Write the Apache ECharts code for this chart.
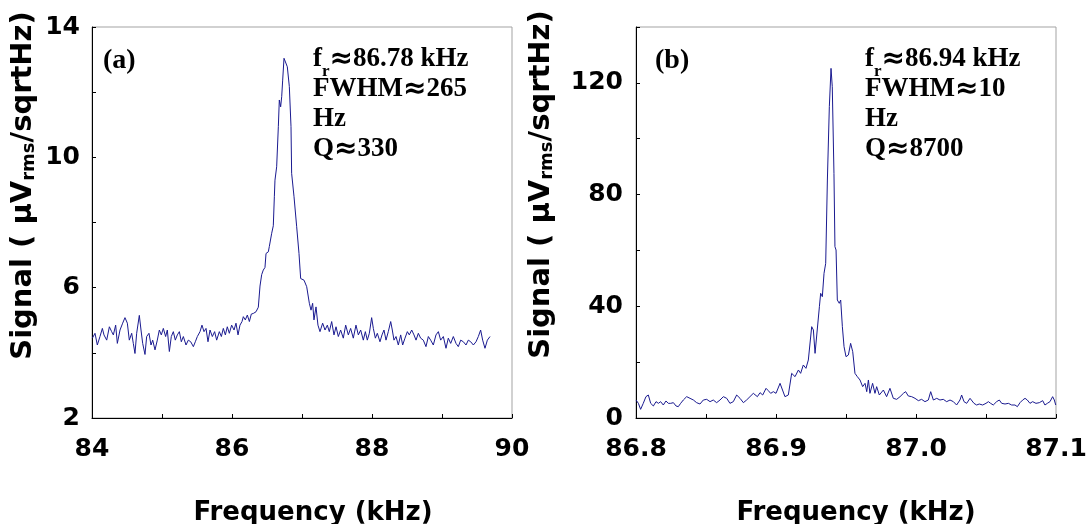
<!DOCTYPE html>
<html>
<head>
<meta charset="utf-8">
<script src="https://cdn.jsdelivr.net/npm/echarts@6/dist/echarts.min.js"></script>
<style>
  html, body { margin: 0; padding: 0; background: #fff; }
  #chart { width: 1090px; height: 524px; }
</style>
</head>
<body>
<div id="chart"></div>
<script>
// ---------- Panel (a) data ----------
const freqA = [
  84.005, 84.043, 84.076, 84.114, 84.148, 84.171, 84.210, 84.248, 84.281, 84.305,
  84.338, 84.362, 84.400, 84.438, 84.471, 84.505, 84.533, 84.567, 84.590, 84.614,
  84.638, 84.676, 84.700, 84.724, 84.757, 84.781, 84.814, 84.843, 84.867, 84.900,
  84.933, 84.962, 84.990, 85.019, 85.052, 85.076, 85.105, 85.133, 85.162, 85.190,
  85.219, 85.248, 85.276, 85.305, 85.343, 85.376, 85.410, 85.448, 85.476, 85.505,
  85.543, 85.571, 85.600, 85.629, 85.657, 85.686, 85.719, 85.752, 85.781, 85.819,
  85.848, 85.876, 85.905, 85.933, 85.962, 85.995, 86.029, 86.057, 86.086, 86.114,
  86.143, 86.162, 86.190, 86.219, 86.248, 86.276, 86.305, 86.343, 86.376,
  86.400, 86.424, 86.447, 86.471, 86.486, 86.519, 86.533, 86.567, 86.590, 86.605,
  86.614, 86.638, 86.662, 86.676, 86.695, 86.710, 86.724, 86.743, 86.767, 86.790,
  86.819, 86.843, 86.852, 86.886, 86.924, 86.957, 86.981, 87.005, 87.029, 87.067,
  87.105, 87.129, 87.152, 87.171, 87.200, 87.228,
  87.257, 87.295, 87.329, 87.362, 87.390, 87.424, 87.457, 87.486, 87.519, 87.552,
  87.590, 87.624, 87.662, 87.695, 87.733, 87.771, 87.805, 87.838, 87.876, 87.905,
  87.933, 87.962, 87.995, 88.019, 88.048, 88.076, 88.114, 88.143, 88.171, 88.200,
  88.233, 88.267, 88.290, 88.314, 88.343, 88.376, 88.410, 88.438, 88.471, 88.505,
  88.533, 88.567, 88.600, 88.629, 88.662, 88.695, 88.733, 88.771, 88.805, 88.838,
  88.876, 88.914, 88.948, 88.981, 89.019, 89.057, 89.090, 89.124, 89.162, 89.200,
  89.233, 89.267, 89.305, 89.343, 89.376, 89.410, 89.448, 89.486, 89.519, 89.552,
  89.581, 89.614, 89.648, 89.686
];
const signalA = [
  4.45, 4.60, 4.24, 4.50, 4.75, 4.55, 4.39, 4.80, 4.65, 4.55,
  4.85, 4.29, 4.70, 4.91, 5.08, 4.91, 4.39, 4.60, 4.29, 3.98,
  4.60, 5.15, 4.70, 4.29, 3.95, 4.50, 4.60, 4.24, 4.39, 4.09,
  4.39, 4.70, 4.55, 4.75, 4.50, 4.70, 4.04, 4.50, 4.65, 4.39,
  4.55, 4.65, 4.34, 4.50, 4.24, 4.39, 4.34, 4.19, 4.34, 4.50,
  4.65, 4.85, 4.65, 4.75, 4.34, 4.70, 4.50, 4.65, 4.39, 4.65,
  4.50, 4.75, 4.55, 4.80, 4.60, 4.85, 4.70, 4.91, 4.55, 4.85,
  4.96, 5.11, 5.01, 5.16, 4.96, 5.19, 5.21, 5.26, 5.40,
  6.05, 6.40, 6.54, 6.62, 7.05, 7.10, 7.26, 7.67, 7.90, 8.79,
  9.30, 9.71, 10.94, 11.76, 11.55, 11.86, 12.37, 13.04, 13.09, 12.78,
  12.17, 10.94, 9.51, 8.79, 7.87, 7.05, 6.28, 6.25, 6.23, 6.03,
  5.52, 5.31, 5.52, 5.01, 5.41, 4.85,
  4.65, 4.91, 4.70, 4.85, 4.65, 4.96, 4.55, 4.80, 4.50, 4.70,
  4.45, 4.85, 4.55, 4.75, 4.45, 4.85, 4.55, 4.70, 4.39, 4.65,
  4.39, 4.60, 5.08, 4.75, 4.45, 4.60, 4.34, 4.55, 4.70, 4.39,
  4.65, 4.96, 4.70, 4.39, 4.50, 4.24, 4.55, 4.24, 4.45, 4.65,
  4.55, 4.70, 4.55, 4.39, 4.60, 4.45, 4.39, 4.19, 4.50, 4.39,
  4.24, 4.55, 4.65, 4.39, 4.50, 4.14, 4.45, 4.29, 4.50, 4.29,
  4.19, 4.39, 4.34, 4.24, 4.39, 4.34, 4.24, 4.34, 4.50, 4.70,
  4.39, 4.14, 4.39, 4.50
];

// ---------- Panel (b) data ----------
const freqB = [
  86.8000, 86.8017, 86.8033, 86.8052, 86.8071, 86.8088, 86.8105, 86.8124, 86.8143, 86.8160,
  86.8176, 86.8195, 86.8214, 86.8231, 86.8248, 86.8267, 86.8286, 86.8302, 86.8319, 86.8338,
  86.8362, 86.8386, 86.8410, 86.8433, 86.8457, 86.8481, 86.8505, 86.8529, 86.8552, 86.8576,
  86.8600, 86.8624, 86.8648, 86.8671, 86.8695, 86.8719, 86.8743, 86.8767, 86.8790, 86.8814,
  86.8838, 86.8850, 86.8867, 86.8886, 86.8905, 86.8929, 86.8945, 86.8962, 86.8981, 86.9000,
  86.9029, 86.9064, 86.9088, 86.9112, 86.9136, 86.9160, 86.9176, 86.9195, 86.9214, 86.9231,
  86.9255, 86.9267, 86.9279, 86.9290, 86.9310, 86.9319, 86.9331, 86.9343, 86.9355, 86.9367,
  86.9381, 86.9393, 86.9402, 86.9414, 86.9421, 86.9429, 86.9438, 86.9452, 86.9462, 86.9474,
  86.9486, 86.9500, 86.9517, 86.9533, 86.9548, 86.9564, 86.9581, 86.9600, 86.9619, 86.9636,
  86.9648, 86.9660, 86.9671, 86.9690, 86.9707, 86.9719, 86.9738, 86.9767, 86.9790, 86.9814,
  86.9838, 86.9862,
  86.9886, 86.9910, 86.9926, 86.9945, 86.9969, 86.9993, 87.0017, 87.0040, 87.0064, 87.0088,
  87.0105, 87.0124, 87.0148, 87.0171, 87.0195, 87.0219, 87.0243, 87.0267, 87.0290, 87.0314,
  87.0326, 87.0343, 87.0362, 87.0386, 87.0398, 87.0414, 87.0433, 87.0452, 87.0476, 87.0500,
  87.0517, 87.0533, 87.0552, 87.0576, 87.0595, 87.0612, 87.0636, 87.0660, 87.0683, 87.0707,
  87.0724, 87.0743, 87.0762, 87.0779, 87.0795, 87.0814, 87.0833, 87.0857, 87.0881, 87.0905,
  87.0921, 87.0938, 87.0957, 87.0976, 87.0988, 87.0998
];
const signalB = [
  6.44, 5.25, 3.10, 5.25, 7.64, 8.23, 5.25, 4.30, 5.85, 5.25,
  5.85, 4.65, 6.09, 5.25, 5.25, 5.49, 4.30, 4.06, 5.25, 6.44,
  7.64, 7.04, 6.44, 5.49, 5.01, 6.44, 6.68, 5.85, 6.44, 5.49,
  6.44, 7.64, 7.04, 5.25, 5.85, 8.23, 7.04, 5.49, 6.44, 7.64,
  8.83, 9.43, 7.64, 9.07, 8.23, 10.62, 9.79, 8.83, 9.43, 8.83,
  12.41, 7.64, 8.23, 15.99, 14.80, 17.19, 15.99, 18.98, 17.78, 20.77,
  32.70, 31.51, 23.15, 23.15, 39.86, 44.64, 43.44, 51.80, 55.38, 85.21,
  111.47, 125.19, 118.63, 87.60, 61.34, 60.15, 42.25, 41.06, 42.25, 32.70,
  25.54, 21.96, 22.56, 26.73, 23.75, 15.99, 14.80, 13.61, 11.22, 12.41,
  9.43, 13.61, 8.83, 12.41, 8.83, 11.22, 8.23, 10.02, 7.64, 10.62,
  7.04, 6.68,
  7.64, 8.83, 9.43, 7.88, 7.64, 7.04, 6.21, 6.68, 5.85, 6.44,
  9.43, 6.44, 7.04, 6.44, 6.68, 5.85, 6.44, 5.85, 4.65, 6.44,
  8.23, 5.85, 5.25, 7.04, 7.64, 5.25, 4.65, 5.01, 4.65, 5.25,
  5.85, 5.25, 4.65, 5.85, 6.44, 5.25, 5.01, 5.25, 4.65, 4.65,
  4.06, 5.49, 6.44, 7.04, 6.44, 5.25, 5.85, 5.25, 5.49, 6.21,
  4.65, 5.25, 5.85, 7.64, 6.44, 4.65
];

// ---------- Annotation texts ----------
const panelLabels = ['(a)', '(b)'];
const annotA = ['f{r|r}{ap|≈}86.78 kHz', 'FWHM{ap|≈}265', 'Hz', 'Q{ap|≈}330'];
const annotB = ['f{r|r}{ap|≈}86.94 kHz', 'FWHM{ap|≈}10', 'Hz', 'Q{ap|≈}8700'];
const yAxisTitle = 'Signal ( µV{s|rms}/sqrtHz)';
const xAxisTitle = 'Frequency (kHz)';

const zip = (xs, ys) => xs.map((x, i) => [x, ys[i]]);

const LINE = '#1a1a90';
const SANS = 'DejaVu Sans';
const SERIF = 'Liberation Serif';

const gridCommon = { top: 27, width: 420, height: 391, show: true, borderColor: '#a3a3a3', borderWidth: 1, backgroundColor: 'transparent', containLabel: false, outerBoundsMode: 'none' };

function xAxisCfg(gridIndex, min, max, interval, fmt, namePad) {
  return {
    type: 'value', gridIndex, min, max, interval,
    axisLine: { show: true, onZero: false, lineStyle: { color: '#000', width: 1 } },
    axisTick: { show: true, inside: true, length: 4, lineStyle: { color: '#000', width: 1 } },
    splitLine: { show: false },
    axisLabel: { show: true, margin: 19, color: '#000', fontFamily: SANS, fontWeight: 'bold', fontSize: 25, formatter: fmt },
    name: xAxisTitle, nameLocation: 'middle', nameGap: 82,
    nameTextStyle: { color: '#000', fontFamily: SANS, fontWeight: 'bold', fontSize: 26, padding: namePad }
  };
}
function yAxisCfg(gridIndex, min, max, interval, fmt, margin, nameGap, namePad) {
  return {
    type: 'value', gridIndex, min, max, interval,
    axisLine: { show: true, onZero: false, lineStyle: { color: '#000', width: 1 } },
    axisTick: { show: true, inside: true, length: 4, lineStyle: { color: '#000', width: 1 } },
    splitLine: { show: false },
    axisLabel: { show: true, margin, color: '#000', fontFamily: SANS, fontWeight: 'bold', fontSize: 25, formatter: fmt },
    name: yAxisTitle, nameLocation: 'middle', nameGap,
    nameTextStyle: {
      color: '#000', fontFamily: SANS, fontWeight: 'bold', fontSize: 29, lineHeight: 34,
      padding: namePad,
      rich: { s: { fontFamily: SANS, fontWeight: 'bold', fontSize: 18, lineHeight: 34, verticalAlign: 'top', padding: [14, 0, 0, 0], color: '#000' } }
    }
  };
}

function annotation(x, lines) {
  return {
    type: 'text', x, y: 44, silent: true,
    style: {
      text: lines.join('\n'),
      fill: '#000', fontFamily: SERIF, fontWeight: 'bold', fontSize: 27, lineHeight: 30,
      align: 'left', verticalAlign: 'top',
      rich: {
        r: { fontFamily: SERIF, fontWeight: 'bold', fontSize: 17, lineHeight: 30, verticalAlign: 'top', padding: [19, 0, 0, 0], color: '#000' },
        ap: { fontFamily: SANS, fontWeight: 'bold', fontSize: 28, lineHeight: 30, verticalAlign: 'middle', padding: [2, 0, 0, 0], color: '#000' }
      }
    }
  };
}
function panelLabel(x, text) {
  return {
    type: 'text', x, y: 46, silent: true,
    style: { text, fill: '#000', fontFamily: SERIF, fontWeight: 'bold', fontSize: 28, lineHeight: 30, align: 'left', verticalAlign: 'top' }
  };
}

const chart = echarts.init(document.getElementById('chart'), null, { renderer: 'canvas' });
chart.setOption({
  animation: false,
  backgroundColor: '#fff',
  grid: [
    Object.assign({ left: 92 }, gridCommon),
    Object.assign({ left: 636 }, gridCommon)
  ],
  xAxis: [
    xAxisCfg(0, 84, 90, 1, v => (Math.round(v) % 2 === 0 ? String(Math.round(v)) : ''), [0, 0, 0, 22]),
    xAxisCfg(1, 86.8, 87.1, 0.05, v => (Math.round(v * 100) % 10 === 0 ? v.toFixed(1) : ''), [0, 0, 0, 20])
  ],
  yAxis: [
    yAxisCfg(0, 2, 14, 2, v => ((Math.round(v) - 2) % 4 === 0 ? String(Math.round(v)) : ''), 12, 52, [0, 0, 0, 74]),
    yAxisCfg(1, 0, 140, 20, v => (Math.round(v) % 40 === 0 ? String(Math.round(v)) : ''), 13, 78, [0, 0, 0, 76])
  ],
  series: [
    { type: 'line', xAxisIndex: 0, yAxisIndex: 0, data: zip(freqA, signalA), showSymbol: false, lineStyle: { color: LINE, width: 1 }, itemStyle: { color: LINE } },
    { type: 'line', xAxisIndex: 1, yAxisIndex: 1, data: zip(freqB, signalB), showSymbol: false, lineStyle: { color: LINE, width: 1 }, itemStyle: { color: LINE } }
  ],
  graphic: [
    panelLabel(103, panelLabels[0]),
    panelLabel(655, panelLabels[1]),
    annotation(313, annotA),
    annotation(865, annotB)
  ]
});
</script>
</body>
</html>
